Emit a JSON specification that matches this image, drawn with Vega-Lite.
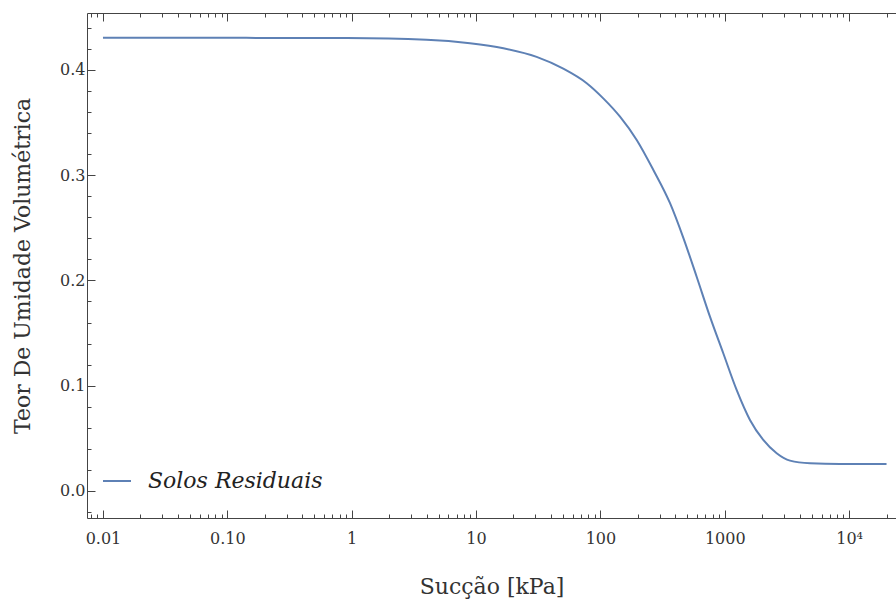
{
  "$schema": "https://vega.github.io/schema/vega-lite/v6.json",
  "width": 809,
  "height": 505,
  "autosize": {"type": "none"},
  "padding": {"left": 87, "top": 13, "right": 0, "bottom": 83},
  "background": "white",
  "data": {
    "values": [
      {"succao": 0.01, "teor": 0.4306, "serie": "Solos Residuais"},
      {"succao": 0.1, "teor": 0.4305, "serie": "Solos Residuais"},
      {"succao": 0.916, "teor": 0.4303, "serie": "Solos Residuais"},
      {"succao": 4, "teor": 0.4287, "serie": "Solos Residuais"},
      {"succao": 8.93, "teor": 0.4254, "serie": "Solos Residuais"},
      {"succao": 16.6, "teor": 0.4206, "serie": "Solos Residuais"},
      {"succao": 30.7, "teor": 0.4124, "serie": "Solos Residuais"},
      {"succao": 50.3, "teor": 0.4012, "serie": "Solos Residuais"},
      {"succao": 77.6, "teor": 0.3874, "serie": "Solos Residuais"},
      {"succao": 105.5, "teor": 0.3730, "serie": "Solos Residuais"},
      {"succao": 143.8, "teor": 0.3556, "serie": "Solos Residuais"},
      {"succao": 195.9, "teor": 0.3335, "serie": "Solos Residuais"},
      {"succao": 266.6, "teor": 0.3050, "serie": "Solos Residuais"},
      {"succao": 363, "teor": 0.2734, "serie": "Solos Residuais"},
      {"succao": 464.5, "teor": 0.2405, "serie": "Solos Residuais"},
      {"succao": 594.5, "teor": 0.2035, "serie": "Solos Residuais"},
      {"succao": 760.5, "teor": 0.1656, "serie": "Solos Residuais"},
      {"succao": 973, "teor": 0.1308, "serie": "Solos Residuais"},
      {"succao": 1246, "teor": 0.0960, "serie": "Solos Residuais"},
      {"succao": 1595, "teor": 0.0675, "serie": "Solos Residuais"},
      {"succao": 2041, "teor": 0.0485, "serie": "Solos Residuais"},
      {"succao": 2615, "teor": 0.0358, "serie": "Solos Residuais"},
      {"succao": 3347, "teor": 0.0288, "serie": "Solos Residuais"},
      {"succao": 4849, "teor": 0.0263, "serie": "Solos Residuais"},
      {"succao": 8453, "teor": 0.0257, "serie": "Solos Residuais"},
      {"succao": 20000, "teor": 0.0257, "serie": "Solos Residuais"}
    ]
  },
  "config": {
    "view": {"stroke": null},
    "axis": {
      "grid": false,
      "domainColor": "#444",
      "tickColor": "#444",
      "tickWidth": 1,
      "labelColor": "#333",
      "titleColor": "#333",
      "labelFont": "DejaVu Serif",
      "labelFontSize": 16,
      "titleFont": "DejaVu Serif",
      "titleFontSize": 22,
      "titleFontWeight": "normal"
    },
    "legend": {
      "labelFont": "DejaVu Serif",
      "labelFontSize": 22,
      "labelFontStyle": "italic",
      "labelColor": "#222",
      "labelLimit": 400
    }
  },
  "resolve": {"axis": {"x": "independent", "y": "independent"}},
  "layer": [
    {
      "mark": {"type": "line", "strokeWidth": 2, "interpolate": "monotone"},
      "encoding": {
        "x": {
          "field": "succao", "type": "quantitative",
          "scale": {"type": "log", "domain": [0.007439, 23830], "nice": false},
          "axis": {
            "orient": "bottom",
            "values": [0.01, 0.1, 1, 10, 100, 1000, 10000],
            "labelExpr": "datum.value >= 10000 ? '10⁴' : datum.value == 0.1 ? '0.10' : format(datum.value, '~g')",
            "tickSize": -8,
            "labelPadding": 20,
            "title": "Sucção [kPa]",
            "titlePadding": 30
          }
        },
        "y": {
          "field": "teor", "type": "quantitative",
          "scale": {"domain": [-0.0257, 0.4541], "nice": false, "zero": false},
          "axis": {
            "orient": "left",
            "values": [0, 0.1, 0.2, 0.3, 0.4],
            "format": ".1f",
            "tickSize": -8,
            "labelPadding": 10,
            "title": "Teor De Umidade Volumétrica",
            "titlePadding": 25
          }
        },
        "color": {
          "field": "serie", "type": "nominal",
          "scale": {"range": ["#5E81B5"]},
          "legend": {
            "title": null,
            "orient": "none",
            "legendX": 15,
            "legendY": 453,
            "padding": 0,
            "symbolType": "stroke",
            "symbolSize": 784,
            "symbolStrokeWidth": 2,
            "labelOffset": 16
          }
        }
      }
    },
    {
      "mark": {"type": "line", "strokeOpacity": 0},
      "encoding": {
        "x": {
          "field": "succao", "type": "quantitative",
          "axis": {
            "orient": "bottom",
            "values": [0.008, 0.009, 0.02, 0.03, 0.04, 0.05, 0.06, 0.07, 0.08, 0.09, 0.2, 0.3, 0.4, 0.5, 0.6, 0.7, 0.8, 0.9, 2, 3, 4, 5, 6, 7, 8, 9, 20, 30, 40, 50, 60, 70, 80, 90, 200, 300, 400, 500, 600, 700, 800, 900, 2000, 3000, 4000, 5000, 6000, 7000, 8000, 9000, 20000],
            "labels": false,
            "domain": false,
            "tickSize": -4,
            "title": null
          }
        },
        "y": {
          "field": "teor", "type": "quantitative",
          "axis": {
            "orient": "left",
            "values": [-0.02, 0.02, 0.04, 0.06, 0.08, 0.12, 0.14, 0.16, 0.18, 0.22, 0.24, 0.26, 0.28, 0.32, 0.34, 0.36, 0.38, 0.42, 0.44],
            "labels": false,
            "domain": false,
            "tickSize": -4,
            "title": null
          }
        }
      }
    },
    {
      "mark": {"type": "line", "strokeOpacity": 0},
      "encoding": {
        "x": {
          "field": "succao", "type": "quantitative",
          "axis": {
            "orient": "top",
            "values": [0.01, 0.1, 1, 10, 100, 1000, 10000],
            "labels": false,
            "tickSize": -8,
            "title": null
          }
        },
        "y": {"field": "teor", "type": "quantitative", "axis": null}
      }
    },
    {
      "mark": {"type": "line", "strokeOpacity": 0},
      "encoding": {
        "x": {
          "field": "succao", "type": "quantitative",
          "axis": {
            "orient": "top",
            "values": [0.008, 0.009, 0.02, 0.03, 0.04, 0.05, 0.06, 0.07, 0.08, 0.09, 0.2, 0.3, 0.4, 0.5, 0.6, 0.7, 0.8, 0.9, 2, 3, 4, 5, 6, 7, 8, 9, 20, 30, 40, 50, 60, 70, 80, 90, 200, 300, 400, 500, 600, 700, 800, 900, 2000, 3000, 4000, 5000, 6000, 7000, 8000, 9000, 20000],
            "labels": false,
            "domain": false,
            "tickSize": -4,
            "title": null
          }
        },
        "y": {"field": "teor", "type": "quantitative", "axis": null}
      }
    }
  ]
}
